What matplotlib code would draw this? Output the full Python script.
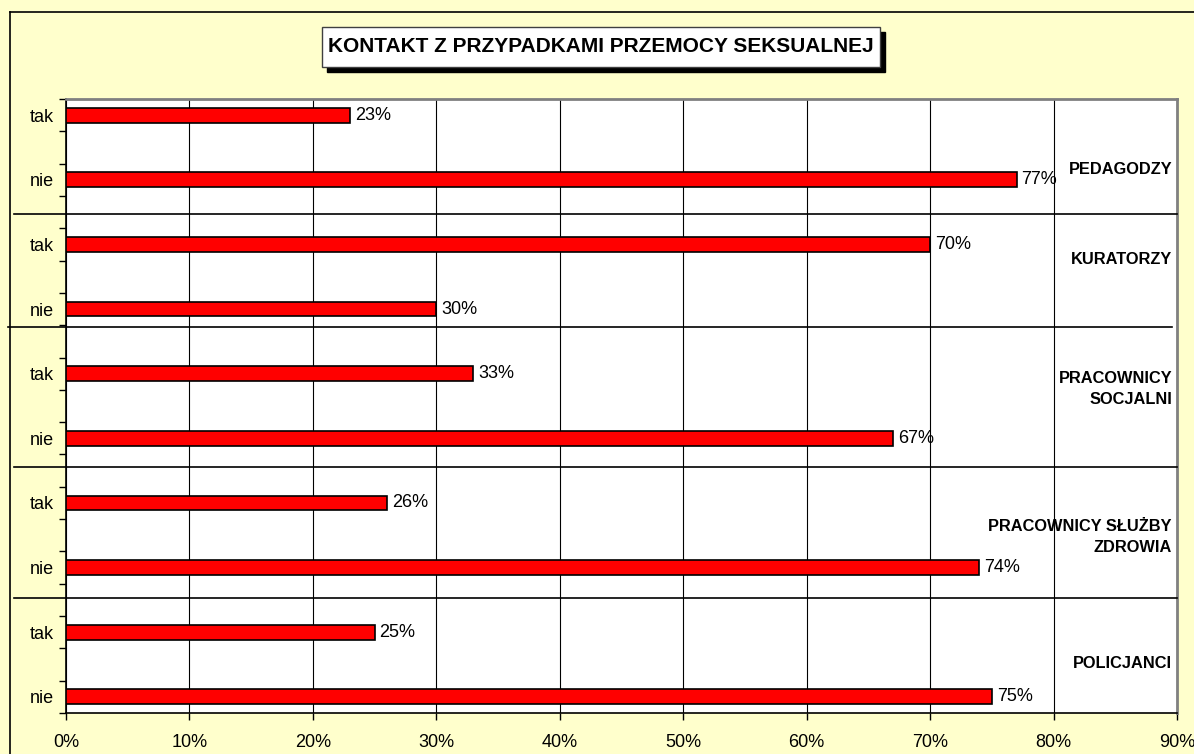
import matplotlib
matplotlib.use("Agg")
import matplotlib.pyplot as plt
from matplotlib.patches import Rectangle
from matplotlib.lines import Line2D
import numpy as np

plt.rcParams['font.family'] = ['Liberation Sans', 'DejaVu Sans']

title = "KONTAKT Z PRZYPADKAMI PRZEMOCY SEKSUALNEJ"
groups = ["PEDAGODZY", "KURATORZY", "PRACOWNICY\nSOCJALNI",
          "PRACOWNICY SŁUŻBY\nZDROWIA", "POLICJANCI"]
answers = ["tak", "nie"]
tak_values = [23, 70, 33, 26, 25]
nie_values = [77, 30, 67, 74, 75]
x_ticks = [0, 10, 20, 30, 40, 50, 60, 70, 80, 90]

W, H = 1194, 754
fig = plt.figure(figsize=(W / 100, H / 100), dpi=100)
fig.patch.set_facecolor('#FFFFCC')
fig.patch.set_linewidth(0)

# outer frame (clipped at right/bottom like reference)
fig.add_artist(Line2D([10 / W, 10 / W], [-0.05, 1 - 12 / H], color='black', lw=1.2))
fig.add_artist(Line2D([10 / W, 1.05], [1 - 12 / H, 1 - 12 / H], color='black', lw=1.2))

left, right, top, bottom = 66, 1177, 99, 713
ax = fig.add_axes([left / W, 1 - bottom / H, (right - left) / W, (bottom - top) / H])
ax.set_facecolor('white')

labels = []
values = []
for t, n in zip(tak_values, nie_values):
    labels += answers
    values += [t, n]
pos = np.arange(len(values))

FS = 13
ax.barh(pos, values, height=0.23, color='#FF0000', edgecolor='black', linewidth=1.2, zorder=3)
for p, v in zip(pos, values):
    ax.text(v + 0.4, p, f"{v}%", va='center', ha='left', fontsize=FS, zorder=4)

ax.set_xlim(0, 90)
ax.set_ylim(len(values) - 0.75, -0.25)
ax.set_xticks(x_ticks)
ax.set_xticklabels([f"{x}%" for x in x_ticks], fontsize=FS)
ax.set_yticks(pos)
ax.set_yticklabels(labels, fontsize=FS)
ax.set_yticks(np.arange(-0.25, len(values) - 0.5, 0.5), minor=True)
ax.tick_params(axis='y', which='major', length=0, pad=9)
ax.tick_params(axis='y', which='minor', length=5, width=1, direction='out', color='black')
ax.tick_params(axis='x', which='major', length=5, width=1, direction='out', pad=10)
ax.grid(axis='x', color='black', linewidth=0.8, zorder=1)
ax.grid(axis='y', visible=False)

for s in ['top', 'right']:
    ax.spines[s].set_color('#808080')
    ax.spines[s].set_linewidth(2)
for s in ['left', 'bottom']:
    ax.spines[s].set_color('black')
    ax.spines[s].set_linewidth(1.2)

# group separators (hand-drawn in reference)
sep_y = [214, 327, 467, 598]
sep_x0 = [14, 8, 14, 14]
sep_x1 = [1177, 1172, 1177, 1177]
for y, x0, x1 in zip(sep_y, sep_x0, sep_x1):
    fig.add_artist(Line2D([x0 / W, x1 / W], [1 - y / H, 1 - y / H], color='black', lw=1.2, zorder=5))

# group labels
group_y = [170, 260, 389, 537, 664]
for g, y in zip(groups, group_y):
    fig.text(1172 / W, 1 - y / H, g, ha='right', va='center', fontsize=11.8,
             fontweight='bold', linespacing=1.55, zorder=6)

# title box with shadow
bx0, by0, bx1, by1 = 322, 27, 880, 67
off = 5
fig.add_artist(Rectangle(((bx0 + off) / W, 1 - (by1 + off) / H), (bx1 - bx0) / W, (by1 - by0) / H,
                         facecolor='black', edgecolor='black', transform=fig.transFigure, zorder=7))
fig.add_artist(Rectangle((bx0 / W, 1 - by1 / H), (bx1 - bx0) / W, (by1 - by0) / H,
                         facecolor='white', edgecolor='#404040', lw=1, transform=fig.transFigure, zorder=8))
fig.text((bx0 + bx1) / 2 / W, 1 - (by0 + by1) / 2 / H, title, ha='center', va='center',
         fontsize=15, fontweight='bold', zorder=9)

fig.savefig("out.png", dpi=100, facecolor=fig.get_facecolor())
